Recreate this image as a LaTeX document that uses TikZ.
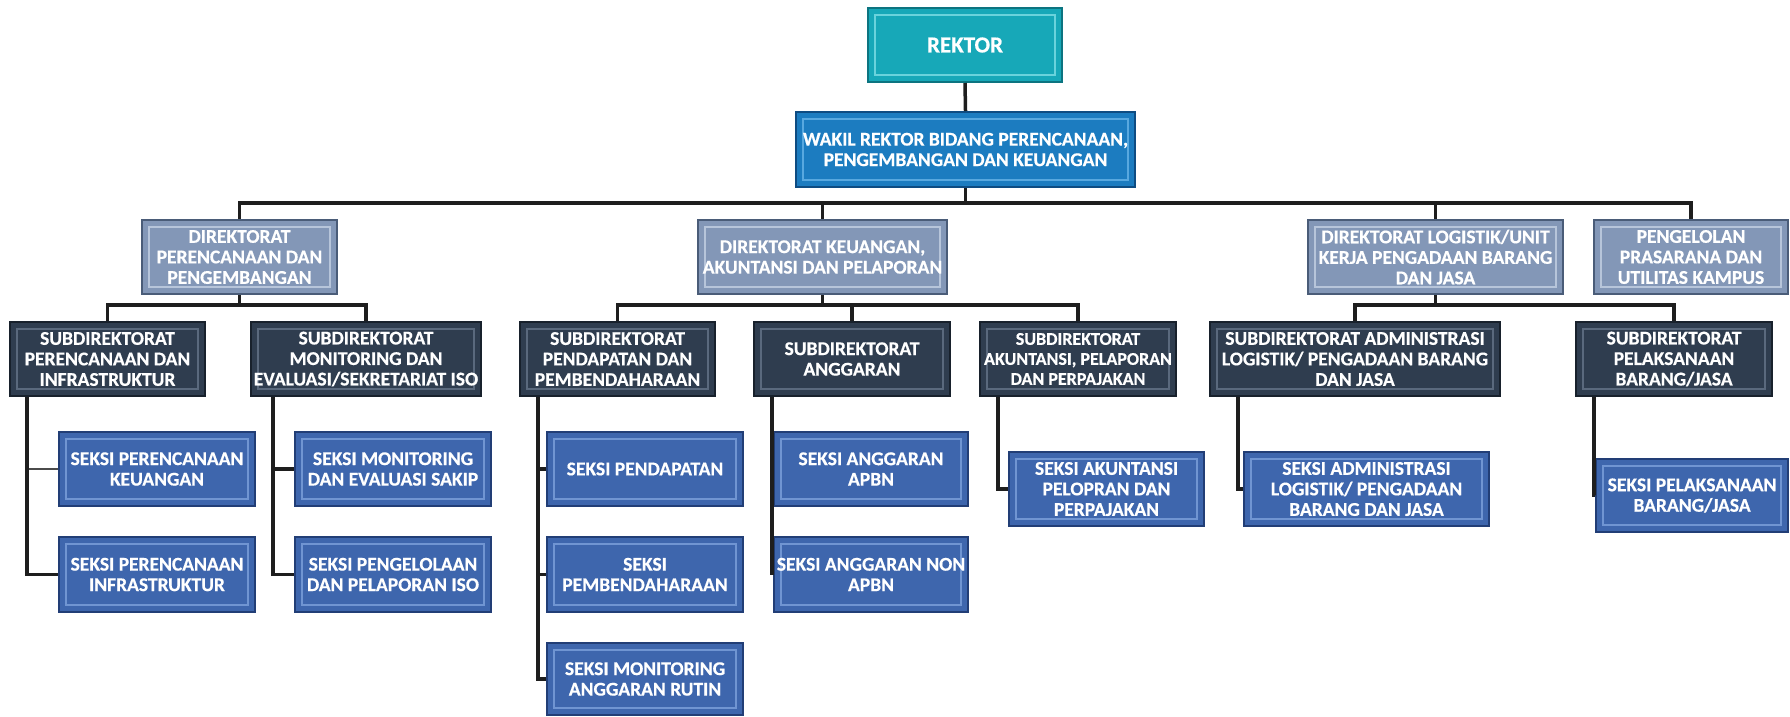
\documentclass[tikz,border=0pt]{standalone}
\usepackage{fontspec}
\setmainfont{Carlito}[BoldFeatures={FakeBold=0.5}]
\definecolor{rekF}{HTML}{17A8B8}\definecolor{rekD}{HTML}{0C7480}\definecolor{rekL}{HTML}{6AD3DC}
\definecolor{wakF}{HTML}{1C7CC0}\definecolor{wakD}{HTML}{0E4C82}\definecolor{wakL}{HTML}{58A8DF}
\definecolor{dirF}{HTML}{8397B7}\definecolor{dirD}{HTML}{4A5C78}\definecolor{dirL}{HTML}{B7C5DA}
\definecolor{subF}{HTML}{2F3D4F}\definecolor{subD}{HTML}{18212C}\definecolor{subL}{HTML}{5A697D}
\definecolor{sekF}{HTML}{3E66AD}\definecolor{sekD}{HTML}{223E76}\definecolor{sekL}{HTML}{7095D2}
\definecolor{lineC}{HTML}{1E1E1E}
\begin{document}
\begin{tikzpicture}[x=1pt,y=-1pt,
  conn/.style={draw=lineC, line width=3.5pt},
  thinconn/.style={draw=lineC!80, line width=1.3pt},
  bevel/.style n args={3}{fill=#1, draw=#2, line width=2pt, text=white, inner sep=0pt, align=center,
     font=\bfseries\fontsize{19.5}{20.5}\selectfont,
     path picture={\draw[draw=#3, line width=1.6pt] ([shift={(7pt,-7pt)}]path picture bounding box.north west) rectangle ([shift={(-7pt,7pt)}]path picture bounding box.south east);}},
  rekbox/.style={bevel={rekF}{rekD}{rekL}, font=\bfseries\fontsize{23}{25}\selectfont},
  wakbox/.style={bevel={wakF}{wakD}{wakL}},
  dirbox/.style={bevel={dirF}{dirD}{dirL}},
  subbox/.style={bevel={subF}{subD}{subL}},
  sekbox/.style={bevel={sekF}{sekD}{sekL}},
]
\fill[white] (0,0) rectangle (1790,716);
\useasboundingbox (0,0) rectangle (1790,716);

% top
\node[rekbox, minimum width=194pt, minimum height=74pt] (rektor) at (965,45) {REKTOR};
\node[wakbox, minimum width=339pt, minimum height=75pt] (wakil) at (965.5,149.5) {WAKIL REKTOR BIDANG PERENCANAAN,\\PENGEMBANGAN DAN KEUANGAN};

% directorates
\node[dirbox, minimum width=195pt, minimum height=74pt] (dir1) at (239.5,257) {DIREKTORAT\\PERENCANAAN DAN\\PENGEMBANGAN};
\node[dirbox, minimum width=249pt, minimum height=74pt] (dir2) at (822.5,257) {DIREKTORAT KEUANGAN,\\AKUNTANSI DAN PELAPORAN};
\node[dirbox, minimum width=255pt, minimum height=74pt] (dir3) at (1435.5,257) {DIREKTORAT LOGISTIK/UNIT\\KERJA PENGADAAN BARANG\\DAN JASA};
\node[dirbox, minimum width=194pt, minimum height=74pt] (dir4) at (1691,257) {PENGELOLAN\\PRASARANA DAN\\UTILITAS KAMPUS};

% subdirectorates
\node[subbox, minimum width=195pt, minimum height=74pt] (sub1) at (107.5,359) {SUBDIREKTORAT\\PERENCANAAN DAN\\INFRASTRUKTUR};
\node[subbox, minimum width=230pt, minimum height=74pt] (sub2) at (366,359) {SUBDIREKTORAT\\MONITORING DAN\\EVALUASI/SEKRETARIAT ISO};
\node[subbox, minimum width=195pt, minimum height=74pt] (sub3) at (617.5,359) {SUBDIREKTORAT\\PENDAPATAN DAN\\PEMBENDAHARAAN};
\node[subbox, minimum width=196pt, minimum height=74pt] (sub4) at (852,359) {SUBDIREKTORAT\\ANGGARAN};
\node[subbox, minimum width=196pt, minimum height=74pt, font=\bfseries\fontsize{18}{20}\selectfont] (sub5) at (1078,359) {SUBDIREKTORAT\\AKUNTANSI, PELAPORAN\\DAN PERPAJAKAN};
\node[subbox, minimum width=290pt, minimum height=74pt] (sub7) at (1355,359) {SUBDIREKTORAT ADMINISTRASI\\LOGISTIK/ PENGADAAN BARANG\\DAN JASA};
\node[subbox, minimum width=196pt, minimum height=74pt] (sub8) at (1674,359) {SUBDIREKTORAT\\PELAKSANAAN\\BARANG/JASA};

% seksi
\node[sekbox, minimum width=196pt, minimum height=74pt] (pk) at (157,469) {SEKSI PERENCANAAN\\KEUANGAN};
\node[sekbox, minimum width=196pt, minimum height=75pt] (pi) at (157,574.5) {SEKSI PERENCANAAN\\INFRASTRUKTUR};
\node[sekbox, minimum width=196pt, minimum height=74pt] (sakip) at (393,469) {SEKSI MONITORING\\DAN EVALUASI SAKIP};
\node[sekbox, minimum width=196pt, minimum height=75pt] (iso) at (393,574.5) {SEKSI PENGELOLAAN\\DAN PELAPORAN ISO};
\node[sekbox, minimum width=196pt, minimum height=74pt] (pend) at (645,469) {SEKSI PENDAPATAN};
\node[sekbox, minimum width=196pt, minimum height=75pt] (pemb) at (645,574.5) {SEKSI\\PEMBENDAHARAAN};
\node[sekbox, minimum width=196pt, minimum height=72pt] (mar) at (645,679) {SEKSI MONITORING\\ANGGARAN RUTIN};
\node[sekbox, minimum width=194pt, minimum height=74pt] (apbn) at (871,469) {SEKSI ANGGARAN\\APBN};
\node[sekbox, minimum width=194pt, minimum height=75pt] (napbn) at (871,574.5) {SEKSI ANGGARAN NON\\APBN};
\node[sekbox, minimum width=195pt, minimum height=74pt] (akun) at (1106.5,489) {SEKSI AKUNTANSI\\PELOPRAN DAN\\PERPAJAKAN};
\node[sekbox, minimum width=245pt, minimum height=74pt] (adm) at (1366.5,489) {SEKSI ADMINISTRASI\\LOGISTIK/ PENGADAAN\\BARANG DAN JASA};
\node[sekbox, minimum width=192pt, minimum height=73pt] (pel) at (1692,495.5) {SEKSI PELAKSANAAN\\BARANG/JASA};

% top connectors
\draw[conn] (rektor.south) -- (wakil.north);
\draw[conn] (wakil.south) -- ++(0,17);
\draw[conn] (dir1.north) -- ++(0,-16) -| (dir4.north);
\draw[conn] (dir2.north) -- ++(0,-16);
\draw[conn] (dir3.north) -- ++(0,-16);

% directorate buses
\draw[conn] (dir1.south) -- ++(0,12);
\draw[conn] (sub1.north) -- ++(0,-16) -| (sub2.north);
\draw[conn] (dir2.south) -- ++(0,12);
\draw[conn] (sub3.north) -- ++(0,-16) -| (sub5.north);
\draw[conn] (sub4.north) -- ++(0,-16);
\draw[conn] (dir3.south) -- ++(0,12);
\draw[conn] (sub7.north) -- ++(0,-16) -| (sub8.north);

% seksi connectors
\path (sub1.south west) ++(18pt,0) coordinate (v1);
\draw[thinconn] (v1) |- (pk.west);
\draw[conn] (v1) |- (pi.west);
\path (sub2.south west) ++(23pt,0) coordinate (v2);
\draw[conn] (v2) |- (sakip.west);
\draw[conn] (v2) |- (iso.west);
\path (sub3.south west) ++(19pt,0) coordinate (v3);
\draw[conn] (v3) |- (pend.west);
\draw[conn] (v3) |- (pemb.west);
\draw[conn] (v3) |- (mar.west);
\path (sub4.south west) ++(19pt,0) coordinate (v4);
\draw[conn] (v4) -- (v4 |- napbn.west);
\path (sub5.south west) ++(19pt,0) coordinate (v5);
\draw[conn] (v5) |- (akun.west);
\path (sub7.south west) ++(29pt,0) coordinate (v7);
\draw[conn] (v7) |- (adm.west);
\path (sub8.south west) ++(19pt,0) coordinate (v8);
\draw[conn] (v8) |- (pel.west);
\end{tikzpicture}
\end{document}
